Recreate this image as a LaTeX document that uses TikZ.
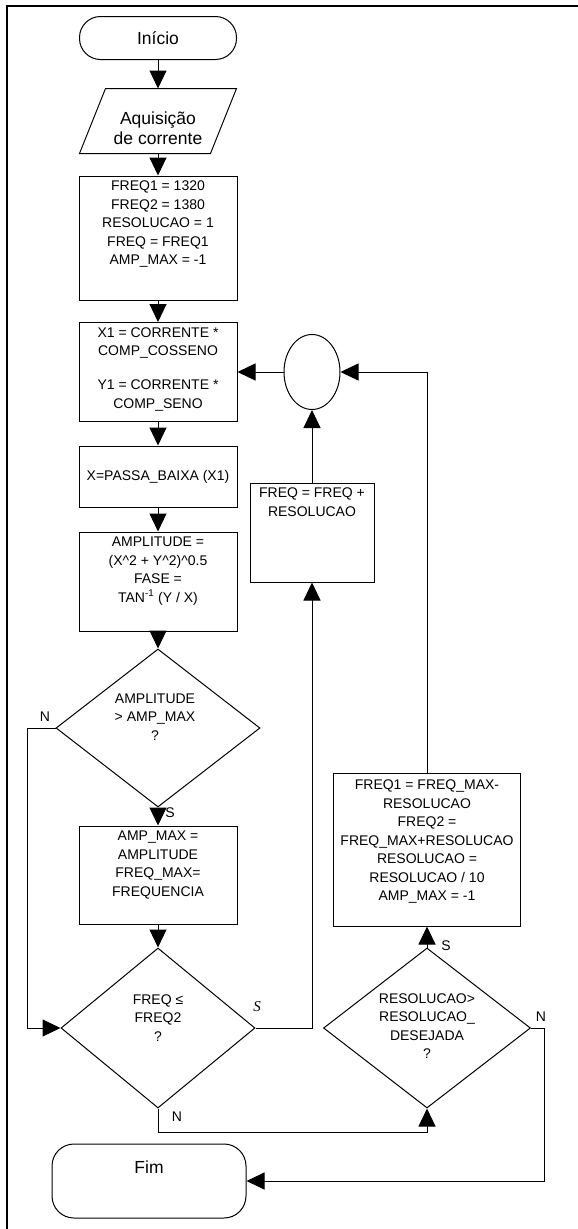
\documentclass[tikz,border=0pt]{standalone}
\usepackage{fontspec}
\setmainfont{Liberation Sans}
\newfontfamily\serifital{Liberation Serif}
\usetikzlibrary{shapes.geometric, arrows.meta}

\begin{document}
\begin{tikzpicture}[x=1pt, y=-1pt, line width=1pt,
	box/.style={shape=rectangle, draw, inner sep=0pt},
	term/.style={shape=rectangle, draw, rounded corners=21pt, inner sep=0pt},
	decision/.style={shape=diamond, draw, inner sep=0pt},
	txt/.style={anchor=north, align=center, inner sep=0pt, font=\fontsize{14}{18.5}\selectfont},
	bigtxt/.style={anchor=north, align=center, inner sep=0pt, font=\fontsize{17.5}{20}\selectfont},
	lbl/.style={inner sep=0pt, font=\fontsize{14}{18.5}\selectfont},
	flow/.style={-{Triangle[length=18pt, width=17pt]}}]
	\useasboundingbox (0, 0) rectangle (578, 1229);
	% Frame:
	\draw[line width=2pt] (7, 1229) -- (7, 6) -- (578, 6);
	% Main column:
	\node[term, minimum width=157pt, minimum height=43pt, font=\fontsize{17.5}{20}\selectfont] (inicio) at (158, 38) {Início};
	\node[shape=rectangle, minimum width=156pt, minimum height=64pt, inner sep=0pt] (aquis) at (158, 121) {};
	\draw ([xshift=26pt]aquis.north west) -- (aquis.north east) -- ([xshift=-26pt]aquis.south east) -- (aquis.south west) -- cycle;
	\node[bigtxt] (aquis-t) at ([yshift=-23pt]aquis.north) {Aquisição\\de corrente};
	\node[box, minimum width=158pt, minimum height=124pt] (init) at (158, 238) {};
	\node[txt] (init-t) at ([yshift=-5pt]init.north) {FREQ1 = 1320\\FREQ2 = 1380\\RESOLUCAO = 1\\FREQ = FREQ1\\AMP\_MAX = -1};
	\node[box, minimum width=158pt, minimum height=99pt] (calc) at (158, 372) {};
	\node[txt] (calc-t) at ([yshift=-5pt]calc.north) {X1 = CORRENTE *\\COMP\_COSSENO\\[15.5pt]Y1 = CORRENTE *\\COMP\_SENO};
	\node[box, minimum width=158pt, minimum height=61pt, font=\fontsize{14}{18.5}\selectfont] (lpf) at (158, 476.5) {X=PASSA\_BAIXA (X1)};
	\node[box, minimum width=158pt, minimum height=99pt] (ampl) at (158, 581.5) {};
	\node[txt] (ampl-t) at ([yshift=-5pt]ampl.north) {AMPLITUDE =\\(X\textasciicircum2 + Y\textasciicircum2)\textasciicircum0.5\\FASE =\\TAN\textsuperscript{-1} (Y / X)};
	\node[decision, minimum width=204pt, minimum height=158pt] (dec1) at (158, 728) {};
	\node[txt] (dec1-t) at ([xshift=-3pt, yshift=35pt]dec1.center) {AMPLITUDE\\> AMP\_MAX\\?};
	\node[box, minimum width=158pt, minimum height=98pt] (upd) at (158, 875) {};
	\node[txt] (upd-t) at ([yshift=-5pt]upd.north) {AMP\_MAX =\\AMPLITUDE\\FREQ\_MAX=\\FREQUENCIA};
	\node[decision, minimum width=194pt, minimum height=160pt] (dec2) at (158, 1028) {};
	\node[txt] (dec2-t) at ([yshift=34pt]dec2.center) {FREQ ≤\\FREQ2\\?};
	\node[term, rounded corners=22pt, minimum width=194pt, minimum height=74pt] (fim) at (149, 1181) {};
	\node[bigtxt] (fim-t) at ([yshift=-17pt]fim.north) {Fim};
	% Loop column:
	\node[shape=ellipse, draw, minimum width=56pt, minimum height=75pt, inner sep=0pt] (join) at (312, 372) {};
	\node[box, minimum width=124pt, minimum height=99pt] (inc) at (312, 532.5) {};
	\node[txt] (inc-t) at ([yshift=-5pt]inc.north) {FREQ = FREQ +\\RESOLUCAO};
	\node[box, minimum width=187pt, minimum height=153pt] (refine) at (427, 849.5) {};
	\node[txt] (refine-t) at ([yshift=-7pt]refine.north) {FREQ1 = FREQ\_MAX-\\RESOLUCAO\\FREQ2 =\\FREQ\_MAX+RESOLUCAO\\RESOLUCAO =\\RESOLUCAO / 10\\AMP\_MAX = -1};
	\node[decision, minimum width=207pt, minimum height=160pt] (dec3) at (427, 1028) {};
	\node[txt] (dec3-t) at ([yshift=35pt]dec3.center) {RESOLUCAO>\\RESOLUCAO\_\\DESEJADA\\?};
	% Connectors:
	\draw[flow] (inicio) -- (aquis);
	\draw[flow] (aquis) -- (init);
	\draw[flow] (init) -- (calc);
	\draw[flow] (calc) -- (lpf);
	\draw[flow] (lpf) -- (ampl);
	\draw[flow] (ampl) -- (dec1);
	\draw[flow] (dec1) -- (upd);
	\draw[flow] (upd) -- (dec2);
	\draw[flow] (dec1.west) -- ++(-28, 0) |- (dec2.west);
	\draw[flow] (dec2.east) -| (inc.south);
	\draw[flow] (inc) -- (join);
	\draw[flow] (join) -- (calc);
	\draw[flow] (dec2.south) -- ++(0, 24) -| (dec3.south);
	\draw[flow] (dec3) -- (refine);
	\draw[flow] (refine.north) |- (join.east);
	\draw[flow] (dec3.east) -- ++(13, 0) |- (fim.east);
	% Labels:
	\node[lbl] (n-dec1) at (45, 717) {N};
	\node[lbl] (s-dec1) at (170, 813) {S};
	\node[lbl, font=\serifital\itshape\fontsize{15}{18}\selectfont] (s-dec2) at (257, 1007) {S};
	\node[lbl] (n-dec2) at (177, 1117) {N};
	\node[lbl] (s-dec3) at (446, 946) {S};
	\node[lbl] (n-dec3) at (541, 1017) {N};
\end{tikzpicture}
\end{document}
